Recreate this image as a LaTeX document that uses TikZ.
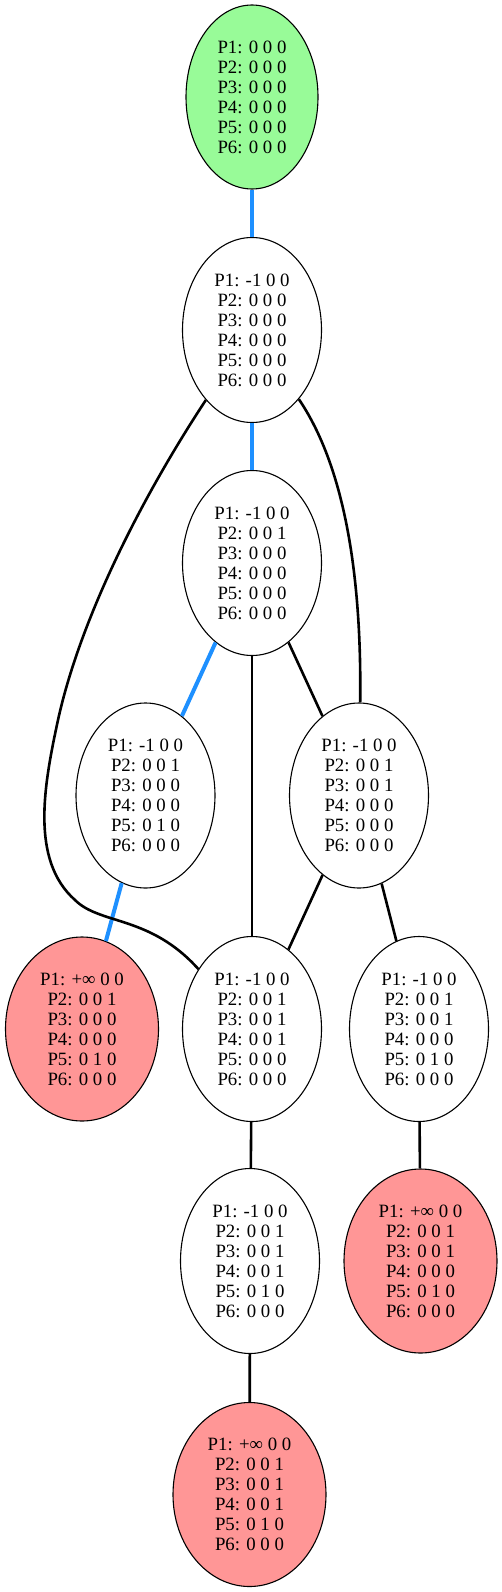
\documentclass[tikz,border=0pt]{standalone}
\usepackage{fontspec}
\setmainfont{Liberation Serif}
\usepackage{tikz}
\usetikzlibrary{shapes.geometric}

\definecolor{startgreen}{RGB}{152,251,152}
\definecolor{failred}{RGB}{255,150,150}
\definecolor{pathblue}{RGB}{30,144,255}

\tikzset{
  state/.style={ellipse, draw, line width=1.1pt, inner sep=0pt, align=center,
    minimum width=139pt, minimum height=185pt,
    font=\fontsize{18.8}{20}\selectfont},
  start/.style={state, fill=startgreen, minimum width=132pt, minimum height=184pt},
  fail/.style={state, fill=failred, minimum width=153pt, minimum height=184pt},
  edge/.style={line width=2.6pt},
  path/.style={line width=4pt, pathblue}
}

\begin{document}
\begin{tikzpicture}[x=1pt,y=-1pt]
\useasboundingbox (0,0) rectangle (502,1592);
\node[start] (S0) at (252,97) {P1: 0 0 0\\P2: 0 0 0\\P3: 0 0 0\\P4: 0 0 0\\P5: 0 0 0\\P6: 0 0 0};
\node[state] (S1) at (252,330) {P1: -1 0 0\\P2: 0 0 0\\P3: 0 0 0\\P4: 0 0 0\\P5: 0 0 0\\P6: 0 0 0};
\node[state] (S2) at (252,563) {P1: -1 0 0\\P2: 0 0 1\\P3: 0 0 0\\P4: 0 0 0\\P5: 0 0 0\\P6: 0 0 0};
\node[state] (S3) at (145.5,795.5) {P1: -1 0 0\\P2: 0 0 1\\P3: 0 0 0\\P4: 0 0 0\\P5: 0 1 0\\P6: 0 0 0};
\node[state] (S4) at (359,795.5) {P1: -1 0 0\\P2: 0 0 1\\P3: 0 0 1\\P4: 0 0 0\\P5: 0 0 0\\P6: 0 0 0};
\node[fail] (F1) at (82,1029) {P1: +∞ 0 0\\P2: 0 0 1\\P3: 0 0 0\\P4: 0 0 0\\P5: 0 1 0\\P6: 0 0 0};
\node[state] (S5) at (252,1029) {P1: -1 0 0\\P2: 0 0 1\\P3: 0 0 1\\P4: 0 0 1\\P5: 0 0 0\\P6: 0 0 0};
\node[state] (S6) at (419,1029) {P1: -1 0 0\\P2: 0 0 1\\P3: 0 0 1\\P4: 0 0 0\\P5: 0 1 0\\P6: 0 0 0};
\node[state] (S7) at (250,1261) {P1: -1 0 0\\P2: 0 0 1\\P3: 0 0 1\\P4: 0 0 1\\P5: 0 1 0\\P6: 0 0 0};
\node[fail] (F2) at (420.5,1261) {P1: +∞ 0 0\\P2: 0 0 1\\P3: 0 0 1\\P4: 0 0 0\\P5: 0 1 0\\P6: 0 0 0};
\node[fail] (F3) at (249.5,1494.5) {P1: +∞ 0 0\\P2: 0 0 1\\P3: 0 0 1\\P4: 0 0 1\\P5: 0 1 0\\P6: 0 0 0};
\draw[path] (S0) -- (S1);
\draw[path] (S1) -- (S2);
\draw[path] (S2) -- (S3);
\draw[path] (S3) -- (F1);
\draw[edge] (S1) .. controls (140,500) and (80,620) .. (58,720)
  .. controls (44,785) and (30,860) .. (75,900)
  .. controls (100,925) and (150,915) .. (S5);
\draw[edge] (S1) .. controls (340,460) and (362,560) .. (S4);
\draw[edge] (S2) -- (S5);
\draw[edge] (S2) -- (S4);
\draw[edge] (S4) -- (S5);
\draw[edge] (S4) -- (S6);
\draw[edge] (S5) -- (S7);
\draw[edge] (S6) -- (F2);
\draw[edge] (S7) -- (F3);
\end{tikzpicture}
\end{document}
